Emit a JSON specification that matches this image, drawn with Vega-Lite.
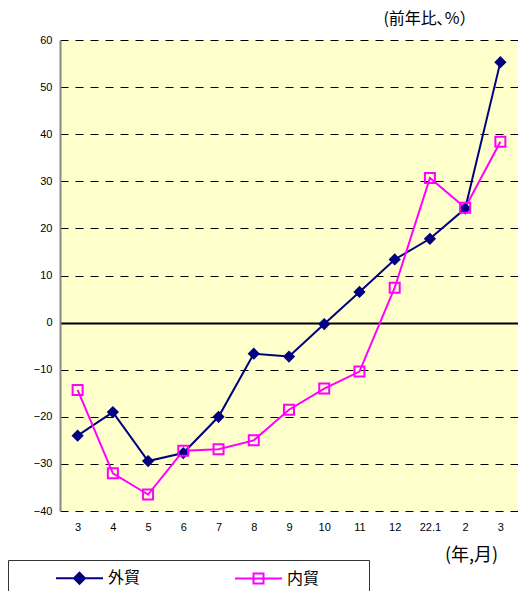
{
  "$schema": "https://vega.github.io/schema/vega-lite/v6.json",
  "width": 458,
  "height": 471,
  "autosize": {"type": "none"},
  "padding": {"left": 60, "top": 40, "right": 0, "bottom": 80},
  "background": "white",
  "config": {
    "view": {"fill": "#FFFFCC", "stroke": null},
    "font": "Liberation Sans"
  },
  "data": {
    "values": [
      {"m": "21.3", "s": "外貿", "v": -24.0},
      {"m": "21.4", "s": "外貿", "v": -19.0},
      {"m": "21.5", "s": "外貿", "v": -29.4},
      {"m": "21.6", "s": "外貿", "v": -27.7},
      {"m": "21.7", "s": "外貿", "v": -20.0},
      {"m": "21.8", "s": "外貿", "v": -6.6},
      {"m": "21.9", "s": "外貿", "v": -7.2},
      {"m": "21.10", "s": "外貿", "v": -0.3},
      {"m": "21.11", "s": "外貿", "v": 6.5},
      {"m": "21.12", "s": "外貿", "v": 13.4},
      {"m": "22.1", "s": "外貿", "v": 17.8},
      {"m": "22.2", "s": "外貿", "v": 24.2},
      {"m": "22.3", "s": "外貿", "v": 55.3},
      {"m": "21.3", "s": "内貿", "v": -14.3},
      {"m": "21.4", "s": "内貿", "v": -32.0},
      {"m": "21.5", "s": "内貿", "v": -36.5},
      {"m": "21.6", "s": "内貿", "v": -27.2},
      {"m": "21.7", "s": "内貿", "v": -26.9},
      {"m": "21.8", "s": "内貿", "v": -25.0},
      {"m": "21.9", "s": "内貿", "v": -18.5},
      {"m": "21.10", "s": "内貿", "v": -14.0},
      {"m": "21.11", "s": "内貿", "v": -10.4},
      {"m": "21.12", "s": "内貿", "v": 7.4},
      {"m": "22.1", "s": "内貿", "v": 30.7},
      {"m": "22.2", "s": "内貿", "v": 24.4},
      {"m": "22.3", "s": "内貿", "v": 38.4}
    ]
  },
  "encoding": {
    "x": {
      "field": "m",
      "type": "ordinal",
      "sort": null,
      "scale": {"type": "point", "padding": 0.5},
      "axis": {
        "labelExpr": "datum.value === '22.1' ? '22.1' : split(datum.value, '.')[1]",
        "labelAngle": 0,
        "labelFontSize": 11,
        "labelColor": "black",
        "labelPadding": 10,
        "domain": false,
        "ticks": false,
        "grid": false,
        "title": "(年,月)",
        "titleFont": "Noto Sans CJK JP",
        "titleFontSize": 18,
        "titleFontWeight": "normal",
        "titleColor": "black",
        "titleAlign": "center",
        "titleBaseline": "middle",
        "titleX": 411,
        "titleY": 44
      }
    },
    "y": {
      "field": "v",
      "type": "quantitative",
      "scale": {"domain": [-40, 60], "nice": false, "zero": false},
      "axis": {
        "values": [-40, -30, -20, -10, 0, 10, 20, 30, 40, 50, 60],
        "labelFontSize": 11,
        "labelColor": "black",
        "labelPadding": 8,
        "ticks": false,
        "domain": true,
        "domainColor": "#888888",
        "domainWidth": 2,
        "grid": true,
        "gridColor": "black",
        "gridOpacity": 1,
        "gridWidth": {"condition": {"test": "datum.value === 0", "value": 2}, "value": 1},
        "gridDash": {"condition": {"test": "datum.value === 0", "value": []}, "value": [8, 7]},
        "title": "(前年比､%）",
        "titleFont": "Noto Sans CJK JP",
        "titleFontSize": 16,
        "titleFontWeight": "normal",
        "titleColor": "black",
        "titleAngle": 0,
        "titleAlign": "center",
        "titleBaseline": "middle",
        "titleX": 369,
        "titleY": -22
      }
    }
  },
  "layer": [
    {
      "mark": {"type": "line", "strokeWidth": 2},
      "encoding": {
        "color": {
          "field": "s",
          "type": "nominal",
          "scale": {"domain": ["外貿", "内貿"], "range": ["#000080", "#FF00FF"]},
          "legend": {
            "title": null,
            "orient": "none",
            "legendX": -52,
            "legendY": 520,
            "direction": "horizontal",
            "columns": 2,
            "columnPadding": 55,
            "padding": 10,
            "strokeColor": "#333333",
            "fillColor": "white",
            "symbolSize": 100,
            "symbolStrokeWidth": 2,
            "symbolOpacity": 1,
            "labelFont": "Noto Sans CJK JP",
            "labelFontSize": 16,
            "labelColor": "black",
            "labelOffset": 74
          }
        }
      }
    },
    {
      "mark": {"type": "point", "filled": false, "strokeWidth": 2, "opacity": 0, "size": 110},
      "encoding": {
        "color": {"field": "s", "type": "nominal"},
        "shape": {
          "field": "s",
          "type": "nominal",
          "scale": {
            "domain": ["外貿", "内貿"],
            "range": [
              "M-1,0M6,0H15.4M10.7,-1.1L11.8,0L10.7,1.1L9.6,0ZM10.7,-0.55L11.25,0L10.7,0.55L10.15,0ZM10.7,-0.8V0.8",
              "M-1,0M6,0H15.4M9.7,-1H11.7V1H9.7ZM30,0"
            ]
          }
        },
        "fill": {
          "field": "s",
          "type": "nominal",
          "scale": {"domain": ["外貿", "内貿"], "range": ["#000080", "transparent"]}
        }
      }
    },
    {
      "transform": [{"filter": "datum.s === '外貿'"}],
      "mark": {"type": "point", "shape": "diamond", "filled": true, "opacity": 1, "size": 150},
      "encoding": {
        "color": {"field": "s", "type": "nominal"}
      }
    },
    {
      "transform": [{"filter": "datum.s === '内貿'"}],
      "mark": {"type": "point", "shape": "square", "filled": false, "strokeWidth": 2, "opacity": 1, "size": 100},
      "encoding": {
        "color": {"field": "s", "type": "nominal"}
      }
    }
  ]
}
